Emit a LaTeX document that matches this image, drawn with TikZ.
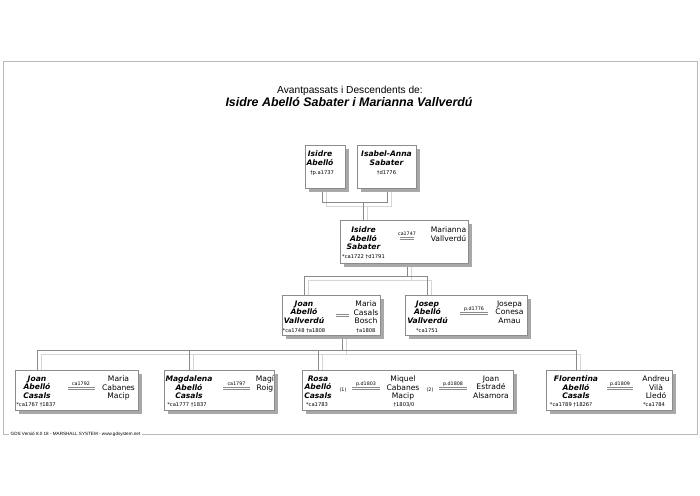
\documentclass[tikz,border=0pt]{standalone}
\usepackage{fontspec}
\setmainfont{DejaVu Sans}
\newfontfamily\titlefont{Liberation Sans}
\usetikzlibrary{shadows,backgrounds}
\definecolor{boxline}{HTML}{8C8C8C}
\definecolor{shadowc}{HTML}{A8A8A8}
\definecolor{conndark}{HTML}{8A8A8A}
\definecolor{connlight}{HTML}{D6D6D6}
\definecolor{framec}{HTML}{B8B8B8}
\begin{document}
\begin{tikzpicture}[x=1pt,y=-1pt,
 pbox/.style={draw=boxline, line width=0.5pt, fill=white, rectangle, inner sep=0pt,
   drop shadow={shadow xshift=4pt, shadow yshift=-4pt, fill=shadowc, opacity=1}},
 pname/.style={anchor=north, inner sep=0pt, align=center, font=\fontsize{7.6}{8.8}\selectfont\bfseries\itshape},
 sname/.style={anchor=north, inner sep=0pt, align=center, font=\fontsize{7.6}{8.8}\selectfont},
 dates/.style={anchor=base, inner sep=0pt, font=\fontsize{5.2}{6}\selectfont},
 mlab/.style={anchor=base, inner sep=0pt, font=\fontsize{4.8}{5}\selectfont},
 dl/.style={draw=conndark, line width=0.5pt},
 conn/.style={draw=conndark, line width=0.6pt},
 connl/.style={draw=connlight, line width=0.6pt, transform canvas={xshift=4pt,yshift=-4pt}},
 frame/.style={draw=framec, line width=0.9pt}
]
\useasboundingbox (0,0) rectangle (700,495);

% title
\node[anchor=base, inner sep=0pt, font=\titlefont\fontsize{10.2}{11}\selectfont] (t1) at (350,93) {Avantpassats i Descendents de:};
\node[anchor=base, inner sep=0pt, font=\titlefont\fontsize{12.4}{13}\selectfont\bfseries\itshape] (t2) at (349,106.5) {Isidre Abelló Sabater i Marianna Vallverdú};

% footer and frame
\node[anchor=west, inner sep=1.5pt, font=\titlefont\fontsize{4.6}{5}\selectfont] (ftr) at (9,434) {GDS Versió 8.0 18 - MARSHALL SYSTEM - www.gdsystem.net};
\draw[frame] (ftr.west) -- (3,434) -- (3,61) -- (697,61) -- (697,434) -- (ftr.east);

% boxes
\node[pbox, minimum width=40pt, minimum height=43pt] (b1) at (325,166.5) {};
\node[pbox, minimum width=59pt, minimum height=43pt] (b2) at (386.5,166.5) {};
\node[pbox, minimum width=128pt, minimum height=43pt] (b3) at (404,241.5) {};
\node[pbox, minimum width=98pt, minimum height=40pt] (b4) at (331,315) {};
\node[pbox, minimum width=122pt, minimum height=40pt] (b5) at (466,315) {};
\node[pbox, minimum width=123pt, minimum height=40pt] (b6) at (76.5,390) {};
\node[pbox, minimum width=110pt, minimum height=40pt] (b7) at (219,390) {};
\node[pbox, minimum width=211pt, minimum height=40pt] (b8) at (407.5,390) {};
\node[pbox, minimum width=126pt, minimum height=40pt] (b9) at (609,390) {};

% box 1
\node[pname] (n1) at (320,151) {Isidre\\Abelló};
\node[dates] (d1) at (322,174.5) {†p.a1737};
% box 2
\node[pname] (n2) at (386.5,151) {Isabel-Anna\\Sabater};
\node[dates] (d2) at (386.5,174.5) {†d1776};
% box 3
\node[pname] (n3) at (363.5,226.3) {Isidre\\Abelló\\Sabater};
\node[dates] (d3) at (363.5,258) {*ca1722 †d1791};
\node[mlab] (m3) at (407,235) {ca1747};
\coordinate (m3l) at (400,237.5);
\coordinate (m3r) at (414,237.5);
\node[sname] (s3) at (448.5,226.3) {Marianna\\Vallverdú};
% box 4
\node[pname] (n4) at (304,300.3) {Joan\\Abelló\\Vallverdú};
\node[dates] (d4) at (304,332) {*ca1748 †a1808};
\coordinate (m4l) at (336,314);
\coordinate (m4r) at (349,314);
\node[sname] (s4) at (366,300.3) {Maria\\Casals\\Bosch};
\node[dates] (e4) at (366,332) {†a1808};
% box 5
\node[pname] (n5) at (427.5,300.3) {Josep\\Abelló\\Vallverdú};
\node[dates] (d5) at (427,332) {*ca1751};
\node[mlab] (m5) at (474,310) {p.d1776};
\coordinate (m5l) at (460,312);
\coordinate (m5r) at (488,312);
\node[sname] (s5) at (509.5,300.3) {Josepa\\Conesa\\Amau};
% box 6
\node[pname] (n6) at (37,375.3) {Joan\\Abelló\\Casals};
\node[dates] (d6) at (36,406.5) {*ca1767 †1837};
\node[mlab] (m6) at (81,385) {ca1792};
\coordinate (m6l) at (68,387);
\coordinate (m6r) at (95,387);
\node[sname] (s6) at (118.5,375.3) {Maria\\Cabanes\\Macip};
% box 7
\node[pname] (n7) at (189,375.3) {Magdalena\\Abelló\\Casals};
\node[dates] (d7) at (187,406.5) {*ca1777 †1837};
\node[mlab] (m7) at (236.5,385) {ca1797};
\coordinate (m7l) at (223,387);
\coordinate (m7r) at (250,387);
\node[sname] (s7) at (265,375.3) {Magí\\Roig};
% box 8
\node[pname] (n8) at (318,375.3) {Rosa\\Abelló\\Casals};
\node[dates] (d8) at (317,406.5) {*ca1783};
\node[mlab] (o8a) at (343,391) {(1)};
\node[mlab] (m8a) at (366,385) {p.d1803};
\coordinate (m8al) at (352,387);
\coordinate (m8ar) at (380,387);
\node[sname] (s8a) at (403,375.3) {Miquel\\Cabanes\\Macip};
\node[dates] (e8a) at (404,406.5) {†1803/0};
\node[mlab] (o8b) at (430,391) {(2)};
\node[mlab] (m8b) at (453,385) {p.d1808};
\coordinate (m8bl) at (439,387);
\coordinate (m8br) at (467,387);
\node[sname] (s8b) at (491,375.3) {Joan\\Estradé\\Alsamora};
% box 9
\node[pname] (n9) at (576,375.3) {Florentina\\Abelló\\Casals};
\node[dates] (d9) at (571,406.5) {*ca1789 †1826?};
\node[mlab] (m9) at (620,385) {p.d1809};
\coordinate (m9l) at (607,387);
\coordinate (m9r) at (633,387);
\node[sname] (s9) at (656,375.3) {Andreu\\Vilà\\Lledó};
\node[dates] (e9) at (654,406.5) {*ca1784};

% marriage double lines
\foreach \m in {m3,m4,m5,m6,m7,m8a,m8b,m9}{
  \draw[dl] (\m l) -- (\m r);
  \draw[dl] ([yshift=-2pt]\m l) -- ([yshift=-2pt]\m r);
}

% connector junctions
\coordinate (p1) at (322,202);
\coordinate (p2) at (387,202);
\coordinate (j1) at (363,202);
\coordinate (j2) at (407,276);
\coordinate (k4) at (304,276);
\coordinate (k5) at (427.5,276);
\coordinate (j3) at (342.5,350);
\coordinate (k6) at (37,350);
\coordinate (k7) at (189,350);
\coordinate (k8) at (318,350);
\coordinate (k9) at (576,350);

\begin{pgfonlayer}{background}
\fill[white] (0,0) rectangle (700,495);
\foreach \st in {connl,conn}{
  \draw[\st] (b1.south -| p1) -- (p1) -- (p2) -- (b2.south -| p2);
  \draw[\st] (j1) -- (b3.north -| j1);
  \draw[\st] (b3.south -| j2) -- (j2);
  \draw[\st] (b4.north -| k4) -- (k4) -- (k5) -- (b5.north -| k5);
  \draw[\st] (b4.south -| j3) -- (j3);
  \draw[\st] (b6.north -| k6) -- (k6) -- (k9) -- (b9.north -| k9);
  \draw[\st] (k7) -- (b7.north -| k7);
  \draw[\st] (k8) -- (b8.north -| k8);
}
\end{pgfonlayer}
\end{tikzpicture}
\end{document}
